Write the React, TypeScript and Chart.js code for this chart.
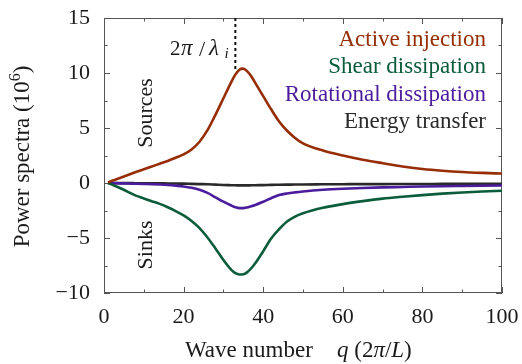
import React, { useEffect, useRef } from "react";
import { Chart, registerables } from "chart.js";

Chart.register(...registerables);

// ---- data ----
const waveNumbers = [1, 2, 4, 6, 8, 10, 12, 14, 16, 18, 20, 22, 24, 26, 28, 30, 32, 33, 34, 35, 36, 37, 38, 40, 42, 44, 46, 48, 50, 55, 60, 65, 70, 75, 80, 85, 90, 95, 100];
const activeInjection = [0.05, 0.2, 0.45, 0.72, 1.0, 1.25, 1.5, 1.75, 2.0, 2.3, 2.6, 3.05, 3.75, 4.8, 6.2, 7.7, 9.2, 9.85, 10.3, 10.4, 10.15, 9.7, 9.1, 7.9, 6.7, 5.6, 4.75, 4.1, 3.6, 2.95, 2.5, 2.12, 1.8, 1.5, 1.28, 1.12, 1.0, 0.92, 0.86];
const shearDissipation = [0, -0.15, -0.45, -0.8, -1.15, -1.4, -1.65, -1.9, -2.2, -2.55, -2.95, -3.45, -4.1, -4.95, -5.95, -7.0, -7.9, -8.2, -8.32, -8.3, -8.1, -7.75, -7.3, -6.2, -5.05, -4.2, -3.5, -3.05, -2.75, -2.25, -1.92, -1.65, -1.42, -1.25, -1.1, -0.97, -0.86, -0.77, -0.7];
const rotationalDissipation = [0, -0.01, -0.03, -0.05, -0.07, -0.09, -0.11, -0.14, -0.18, -0.24, -0.32, -0.44, -0.62, -0.9, -1.3, -1.7, -2.05, -2.2, -2.28, -2.28, -2.22, -2.12, -2.0, -1.7, -1.38, -1.1, -0.95, -0.85, -0.77, -0.62, -0.52, -0.45, -0.4, -0.36, -0.32, -0.29, -0.27, -0.25, -0.23];
const energyTransfer = [0, 0, -0.01, -0.01, -0.02, -0.02, -0.03, -0.03, -0.04, -0.05, -0.06, -0.08, -0.1, -0.12, -0.15, -0.18, -0.2, -0.21, -0.22, -0.22, -0.22, -0.21, -0.2, -0.19, -0.17, -0.16, -0.15, -0.14, -0.13, -0.12, -0.11, -0.1, -0.1, -0.09, -0.09, -0.08, -0.08, -0.08, -0.08];

const seriesLabels = ["Active injection", "Shear dissipation", "Rotational dissipation", "Energy transfer"];
const seriesValues = [activeInjection, shearDissipation, rotationalDissipation, energyTransfer];
const seriesColors = ["#962d04", "#0b5c3a", "#4b1c9c", "#2a2a2a"];

const injectionWaveNumber = 33;
const injectionMarkerTop = 15;
const injectionMarkerBottom = 10.3;

const xRange = [0, 100];
const yRange = [-10, 15];

const SERIF = "Liberation Serif";
const FRAME = "#555555";

function fmt(v: number): string {
  return v < 0 ? "\u2212" + Math.abs(v) : String(v);
}

function drawSegments(ctx: CanvasRenderingContext2D, x: number, y: number, segs: [string, string][]) {
  let cx = x;
  for (const [txt, font] of segs) {
    ctx.font = font;
    ctx.fillText(txt, cx, y);
    cx += ctx.measureText(txt).width;
  }
  return cx;
}

const decorPlugin = {
  id: "decor",
  beforeDatasetsDraw(chart: any) {
    const ctx: CanvasRenderingContext2D = chart.ctx;
    const { left, right, top, bottom } = chart.chartArea;
    const xs = chart.scales.x;
    const ys = chart.scales.y;
    ctx.save();
    ctx.strokeStyle = FRAME;
    ctx.lineWidth = 1;
    ctx.strokeRect(Math.round(left) + 0.5, Math.round(top) + 0.5, Math.round(right - left) - 1, Math.round(bottom - top) - 1);
    ctx.beginPath();
    for (const t of xs.ticks) {
      const px = Math.round(xs.getPixelForValue(t.value)) + 0.5;
      const len = t.value % 20 === 0 ? 6 : 3.5;
      ctx.moveTo(px, bottom);
      ctx.lineTo(px, bottom - len);
      ctx.moveTo(px, top);
      ctx.lineTo(px, top + len);
    }
    for (const t of ys.ticks) {
      const py = Math.round(ys.getPixelForValue(t.value)) + 0.5;
      const len = t.value % 5 === 0 ? 6 : 3.5;
      ctx.moveTo(left, py);
      ctx.lineTo(left + len, py);
      ctx.moveTo(right, py);
      ctx.lineTo(right - len, py);
    }
    ctx.stroke();

    // dotted marker at the injection wave number
    const mx = xs.getPixelForValue(injectionWaveNumber);
    ctx.strokeStyle = "#111";
    ctx.lineWidth = 2;
    ctx.setLineDash([3, 3]);
    ctx.beginPath();
    ctx.moveTo(mx, ys.getPixelForValue(injectionMarkerTop));
    ctx.lineTo(mx, ys.getPixelForValue(injectionMarkerBottom));
    ctx.stroke();
    ctx.restore();
  },
  afterDraw(chart: any) {
    const ctx: CanvasRenderingContext2D = chart.ctx;
    ctx.save();
    ctx.fillStyle = "#1a1a1a";
    ctx.textBaseline = "alphabetic";

    // legend text, right aligned
    ctx.textAlign = "right";
    ctx.font = `23px ${SERIF}`;
    seriesLabels.forEach((lab, i) => {
      ctx.fillStyle = seriesColors[i];
      ctx.fillText(lab, 486, 46 + i * 27.3);
    });

    ctx.fillStyle = "#1a1a1a";
    ctx.textAlign = "left";
    // 2π/λ_i label (math spacing)
    ctx.font = `21px ${SERIF}`;
    ctx.fillText("2", 170, 55);
    ctx.font = `italic 23px ${SERIF}`;
    ctx.fillText("\u03c0", 181, 55);
    ctx.font = `22px ${SERIF}`;
    ctx.fillText("/", 199, 56);
    ctx.font = `italic 23px ${SERIF}`;
    ctx.fillText("\u03bb", 209, 55);
    ctx.font = `italic 15px ${SERIF}`;
    ctx.fillText("i", 224.5, 58);

    // x axis title
    const reg23 = `23px ${SERIF}`;
    const ita23 = `italic 23px ${SERIF}`;
    ctx.font = reg23;
    ctx.fillText("Wave number", 185, 357);
    drawSegments(ctx, 337, 357, [["q", ita23], [" (2", reg23], ["\u03c0", ita23], ["/", reg23], ["L", ita23], [")", reg23]]);

    // y axis title (rotated)
    ctx.save();
    ctx.translate(29, 156.5);
    ctx.rotate(-Math.PI / 2);
    ctx.font = reg23;
    const main = "Power spectra (10";
    const wMain = ctx.measureText(main).width;
    ctx.font = `16px ${SERIF}`;
    const wSup = ctx.measureText("6").width;
    ctx.font = reg23;
    const wEnd = ctx.measureText(")").width;
    const total = wMain + wSup + wEnd;
    let sx = -total / 2;
    ctx.fillText(main, sx, 0);
    sx += wMain;
    ctx.font = `16px ${SERIF}`;
    ctx.fillText("6", sx, -9);
    sx += wSup;
    ctx.font = reg23;
    ctx.fillText(")", sx, 0);
    ctx.restore();

    // Sources / Sinks
    const rotLabel = (txt: string, cx: number, cy: number) => {
      ctx.save();
      ctx.translate(cx, cy);
      ctx.rotate(-Math.PI / 2);
      ctx.font = `22px ${SERIF}`;
      ctx.textAlign = "center";
      ctx.fillText(txt, 0, 0);
      ctx.restore();
    };
    rotLabel("Sources", 152, 113);
    rotLabel("Sinks", 152, 245);
    ctx.restore();
  },
};

export default function App() {
  const ref = useRef<HTMLCanvasElement | null>(null);
  useEffect(() => {
    if (!ref.current) return;
    const datasets = seriesValues.map((vals, i) => ({
      label: seriesLabels[i],
      data: waveNumbers.map((q, j) => ({ x: q, y: vals[j] })),
      borderColor: seriesColors[i],
      backgroundColor: seriesColors[i],
      borderWidth: 2.6,
      pointRadius: 0,
      cubicInterpolationMode: "monotone" as const,
      fill: false,
    }));
    const chart = new Chart(ref.current, {
      type: "line",
      data: { datasets },
      options: {
        animation: false,
        responsive: false,
        devicePixelRatio: 1,
        layout: { padding: { top: 18, right: 20, left: 0, bottom: 0 } },
        plugins: { legend: { display: false }, tooltip: { enabled: false } },
        scales: {
          x: {
            type: "linear",
            min: xRange[0],
            max: xRange[1],
            grid: { display: false, drawTicks: false },
            border: { display: false },
            ticks: {
              stepSize: 10,
              autoSkip: false,
              maxRotation: 0,
              padding: 11,
              color: "#1a1a1a",
              font: { family: SERIF, size: 22 },
              callback: (v: any) => (Number(v) % 20 === 0 ? fmt(Number(v)) : ""),
            },
            afterFit: (s: any) => {
              s.height = 71;
              s.paddingLeft = 0;
              s.paddingRight = 0;
            },
          },
          y: {
            type: "linear",
            min: yRange[0],
            max: yRange[1],
            grid: { display: false, drawTicks: false },
            border: { display: false },
            ticks: {
              stepSize: 2.5,
              autoSkip: false,
              padding: 14,
              color: "#1a1a1a",
              font: { family: SERIF, size: 22 },
              callback: (v: any) => (Number(v) % 5 === 0 ? fmt(Number(v)) : ""),
            },
            afterFit: (s: any) => {
              s.width = 104;
              s.paddingTop = 0;
              s.paddingBottom = 0;
            },
          },
        },
      },
      plugins: [decorPlugin],
    });
    return () => chart.destroy();
  }, []);
  return (
    <div style={{ position: "absolute", left: 0, top: 0, width: 522, height: 364, background: "#fff" }}>
      <canvas ref={ref} width={522} height={364} style={{ width: 522, height: 364, display: "block" }} />
    </div>
  );
}
